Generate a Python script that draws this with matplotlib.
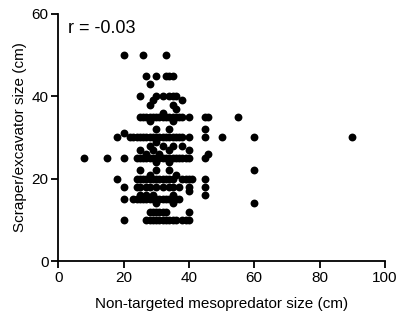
import numpy as np
import matplotlib
matplotlib.use("Agg")
import matplotlib.pyplot as plt

plt.rcParams['font.family'] = ['Liberation Sans', 'DejaVu Sans']

# (mesopredator size, scraper/excavator size)
rows = {
    50: [20, 26, 33],
    45: [27, 30, 33, 34, 35],
    43: [28],
    40: [25, 30, 32, 34, 35, 36],
    39: [29, 38],
    38: [28, 35],
    37: [36],
    36: [32],
    35: [25, 26, 27, 28, 29, 30, 31, 32, 33, 34, 35, 36, 37, 38, 40, 45, 46, 55],
    34: [28, 35],
    32: [30, 34, 45],
    31: [20],
    30: [18, 22, 23, 24, 25, 26, 27, 28, 29, 30, 31, 32, 33, 34, 35, 36, 37, 38, 40, 45, 50, 60, 90],
    29: [30],
    28: [28, 32, 35, 38],
    27: [25, 29, 34, 40],
    26: [27, 31, 46],
    25: [8, 15, 20, 24, 25, 26, 27, 28, 29, 30, 31, 32, 33, 34, 35, 36, 37, 38, 39, 40, 45],
    24: [30, 34],
    22: [25, 30, 34, 60],
    21: [28, 36],
    20: [18, 24, 25, 26, 27, 28, 29, 30, 31, 32, 33, 34, 35, 38, 39, 40, 41, 45],
    18: [20, 24, 25, 27, 28, 30, 32, 34, 35, 37, 40, 45],
    17: [40],
    16: [25, 27, 29, 35, 45],
    15: [20, 23, 24, 25, 26, 27, 28, 29, 30, 31, 32, 33, 34, 35, 36, 37],
    14: [30, 35, 60],
    12: [28, 29, 30, 31, 32, 33, 40],
    10: [20, 27, 28, 29, 30, 31, 32, 33, 34, 35, 36, 38, 39, 40],
}

meso_size = []
scraper_size = []
for y, xs in rows.items():
    for x in xs:
        meso_size.append(x)
        scraper_size.append(y)

x_ticks = [0, 20, 40, 60, 80, 100]
y_ticks = [0, 20, 40, 60]
r_label = "r = -0.03"

fig = plt.figure(figsize=(4.01, 3.22), dpi=100)
ax = fig.add_axes([0.145, 0.189, 0.815, 0.768])

ax.scatter(meso_size, scraper_size, s=32, color='black', linewidths=0, zorder=3)

ax.set_xlim(0, 100)
ax.set_ylim(0, 60)
ax.set_xticks(x_ticks)
ax.set_yticks(y_ticks)

for side in ['top', 'right']:
    ax.spines[side].set_visible(False)
for side in ['left', 'bottom']:
    ax.spines[side].set_linewidth(1.3)
ax.tick_params(direction='out', length=5, width=1.3, labelsize=11, pad=2)

ax.set_xlabel("Non-targeted mesopredator size (cm)", fontsize=11, labelpad=9)
ax.set_ylabel("Scraper/excavator size (cm)", fontsize=11, labelpad=3)
ax.text(3, 56.5, r_label, fontsize=13, ha='left', va='center')

fig.savefig("out.png", dpi=100)
